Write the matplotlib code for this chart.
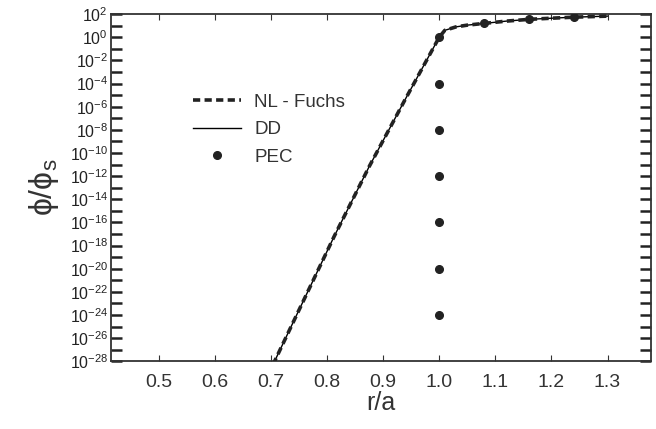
import numpy as np
import matplotlib.pyplot as plt
from matplotlib.ticker import FixedLocator

plt.rcParams['font.family'] = ['Liberation Sans', 'DejaVu Sans']
plt.rcParams['mathtext.fontset'] = 'custom'
plt.rcParams['mathtext.rm'] = 'Liberation Sans'

# NL - Fuchs / DD potential profile (log10 of phi/phi_s)
r_line = [0.695, 0.75, 0.813, 0.875, 0.938, 1.0, 1.01, 1.03, 1.05, 1.08, 1.12, 1.16, 1.20, 1.24, 1.30]
log_line = [-29.2, -23.6, -17.2, -11.2, -5.5, 0.0, 0.6, 0.9, 1.05, 1.2, 1.4, 1.55, 1.65, 1.74, 1.83]

# PEC points
r_pec = [1.0, 1.0, 1.0, 1.0, 1.0, 1.0, 1.0, 1.08, 1.16, 1.24]
log_pec = [0, -4, -8, -12, -16, -20, -24, 1.22, 1.57, 1.74]

x_ticks = [0.5, 0.6, 0.7, 0.8, 0.9, 1.0, 1.1, 1.2, 1.3]
y_decades = list(range(-28, 3))

phi_line = 10.0 ** np.array(log_line)
phi_pec = 10.0 ** np.array(log_pec, dtype=float)

fig = plt.figure(figsize=(6.56, 4.29), dpi=100)
ax = fig.add_axes([0.169, 0.158, 0.823, 0.809])

ax.plot(r_line, phi_line, color='black', lw=1.0, label='DD', zorder=2)
ax.plot(r_line, phi_line, color='#222222', lw=2.6, dashes=(2.0, 1.2), label='NL - Fuchs', zorder=3)
ax.plot(r_pec, phi_pec, 'o', color='#222222', ms=5.5, label='PEC', zorder=4)

ax.set_yscale('log')
ax.set_xlim(0.415, 1.377)
ax.set_ylim(1e-28, 1e2)

ax.yaxis.set_major_locator(FixedLocator([10.0 ** e for e in y_decades]))
ax.yaxis.set_minor_locator(FixedLocator([]))
ax.set_yticklabels([r'$\mathregular{10^{%d}}$' % e if e % 2 == 0 else '' for e in y_decades])
ax.set_xticks(x_ticks)
ax.set_xticklabels(['%.1f' % v for v in x_ticks])

ax.tick_params(axis='y', which='major', direction='in', length=8, width=1.8,
               right=True, labelsize=11.5, pad=2, colors='#222222')
ax.tick_params(axis='x', direction='in', length=4, width=0.8, top=True,
               labelsize=14, pad=9, colors='#333333')
for s in ax.spines.values():
    s.set_linewidth(1.3)
    s.set_color('#333333')

ax.set_xlabel('r/a', fontsize=18, color='#333333', labelpad=0)
ax.set_ylabel(r'$\mathregular{\phi/\phi_s}$', fontsize=23, color='#333333', labelpad=6)

h, l = ax.get_legend_handles_labels()
order = [1, 0, 2]
ax.legend([h[i] for i in order], [l[i] for i in order], loc='upper left',
          bbox_to_anchor=(0.12, 0.82), frameon=False, fontsize=13.5,
          handlelength=2.6, handletextpad=0.7, labelspacing=0.55,
          labelcolor='#333333')

fig.savefig('out.png', dpi=100)
